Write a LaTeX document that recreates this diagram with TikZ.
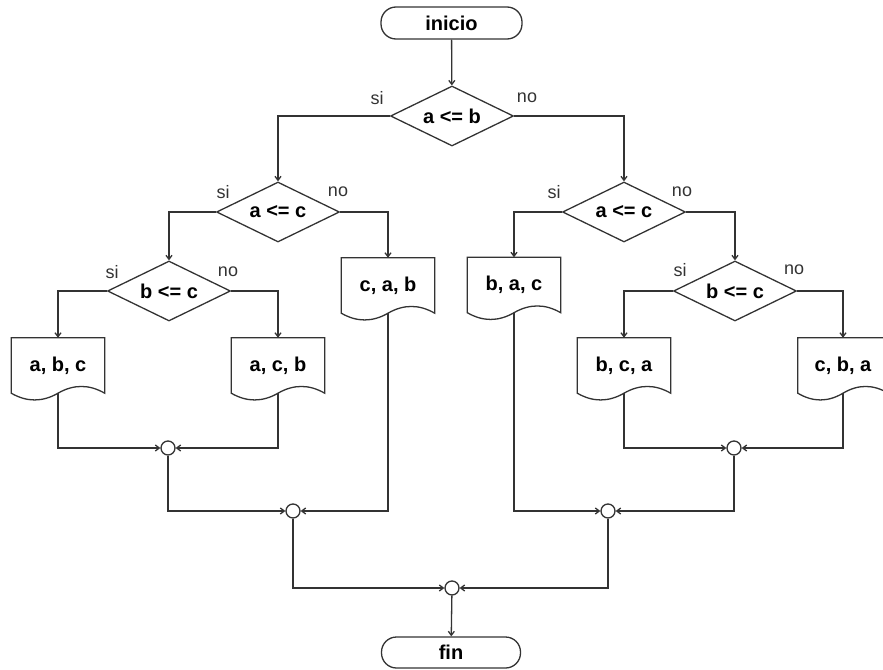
\documentclass[tikz,border=0pt]{standalone}
\usepackage{fontspec}
\setmainfont{Liberation Sans}
\usetikzlibrary{shapes.geometric,arrows.meta,calc}
\definecolor{lc}{HTML}{333333}
\newcommand\docdraw[1]{\draw[ln] (#1.south west) -- (#1.north west) -- (#1.north east) -- (#1.south east)
  .. controls ($(#1.south east)!0.333!(#1.south)+(0,-9)$) and ($(#1.south)!0.333!(#1.south east)+(0,-9)$) .. (#1.south)
  .. controls ($(#1.south)!0.333!(#1.south west)+(0,9)$) and ($(#1.south west)!0.333!(#1.south)+(0,9)$) .. (#1.south west) -- cycle;}
\begin{document}
\begin{tikzpicture}[x=1pt,y=-1pt,
  ln/.style={draw=lc, line width=1.3pt},
  arr/.style={ln, -{Straight Barb[length=4pt,width=6pt]}},
  term/.style={draw=lc, line width=1.3pt, rounded corners=15pt, minimum width=141pt, minimum height=32pt, inner sep=0pt, font=\bfseries\fontsize{20}{23}\selectfont},
  dec/.style={diamond, aspect=2, draw=lc, line width=1.3pt, minimum width=123pt, minimum height=60pt, inner sep=0pt, font=\bfseries\fontsize{20}{23}\selectfont},
  docbox/.style={minimum width=93pt, minimum height=55pt, inner sep=0pt, font=\bfseries\fontsize{20}{23}\selectfont},
  junc/.style={circle, draw=lc, line width=1.3pt, minimum size=14pt, inner sep=0pt},
  lab/.style={font=\fontsize{18}{21}\selectfont, text=lc, inner sep=0pt}
]
\useasboundingbox (0,0) rectangle (883,669);
% terminals
\node[term] (inicio) at (451.5,23) {inicio};
\node[term, minimum width=139pt, minimum height=31pt] (fin) at (451,652.5) {fin};
% decisions
\node[dec] (d1) at (452,116) {a <= b};
\node[dec] (d2) at (278,212) {a <= c};
\node[dec] (d3) at (169,291) {b <= c};
\node[dec] (d4) at (624,212) {a <= c};
\node[dec] (d5) at (735,291) {b <= c};
% documents
\node[docbox] (abc) at (58,365.5) {a, b, c};
\node[docbox] (acb) at (278,365.5) {a, c, b};
\node[docbox] (cab) at (388,285.5) {c, a, b};
\node[docbox] (bac) at (514,285) {b, a, c};
\node[docbox] (bca) at (624,365.5) {b, c, a};
\node[docbox, minimum width=90pt] (cba) at (843,365.5) {c, b, a};
\docdraw{abc}
\docdraw{acb}
\docdraw{cab}
\docdraw{bac}
\docdraw{bca}
\docdraw{cba}
% junctions
\node[junc] (c1) at (168,448) {};
\node[junc] (c2) at (293,511) {};
\node[junc] (c3) at (734,448) {};
\node[junc] (c4) at (608,511) {};
\node[junc] (c5) at (452,588) {};
% labels
\node[lab] (l1s) at (377,98) {si};
\node[lab] (l1n) at (527,98) {no};
\node[lab] (l2s) at (223,192) {si};
\node[lab] (l2n) at (338,192) {no};
\node[lab] (l3s) at (112,272) {si};
\node[lab] (l3n) at (228,272) {no};
\node[lab] (l4s) at (554,192) {si};
\node[lab] (l4n) at (682,192) {no};
\node[lab] (l5s) at (680,270) {si};
\node[lab] (l5n) at (794,270) {no};
% connectors
\draw[arr] (inicio) -- (d1);
\draw[arr] (d1.west) -| (d2.north);
\draw[arr] (d1.east) -| (d4.north);
\draw[arr] (d2.west) -| (d3.north);
\draw[arr] (d2.east) -| (cab.north);
\draw[arr] (d3.west) -| (abc.north);
\draw[arr] (d3.east) -| (acb.north);
\draw[arr] (d4.west) -| (bac.north);
\draw[arr] (d4.east) -| (d5.north);
\draw[arr] (d5.west) -| (bca.north);
\draw[arr] (d5.east) -| (cba.north);
\draw[arr] (abc.south) |- (c1.west);
\draw[arr] (acb.south) |- (c1.east);
\draw[arr] (c1.south) |- (c2.west);
\draw[arr] (cab.south) |- (c2.east);
\draw[arr] (bca.south) |- (c3.west);
\draw[arr] (cba.south) |- (c3.east);
\draw[arr] (bac.south) |- (c4.west);
\draw[arr] (c3.south) |- (c4.east);
\draw[arr] (c2.south) |- (c5.west);
\draw[arr] (c4.south) |- (c5.east);
\draw[arr] (c5) -- (fin);
\end{tikzpicture}
\end{document}
